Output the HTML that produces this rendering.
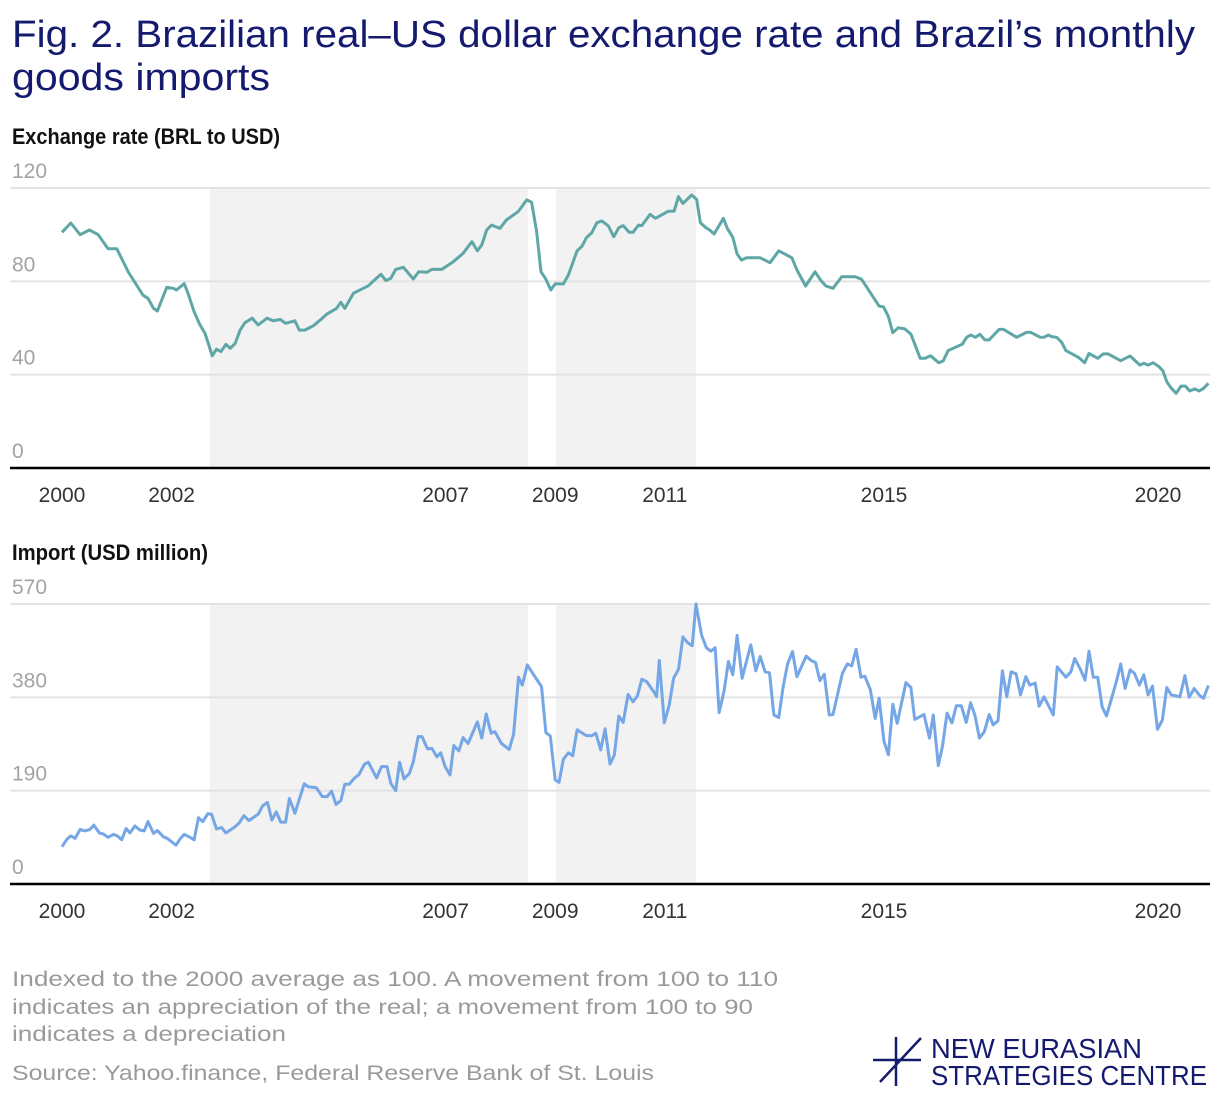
<!DOCTYPE html>
<html><head><meta charset="utf-8">
<style>
html,body{margin:0;padding:0;background:#fff;}
svg{display:block;font-family:"Liberation Sans",sans-serif;}
</style></head>
<body>
<svg id="chart" width="1220" height="1096" viewBox="0 0 1220 1096" xmlns="http://www.w3.org/2000/svg">
<text x="12" y="47" font-size="38" fill="#141a6e" textLength="1183" lengthAdjust="spacingAndGlyphs">Fig. 2. Brazilian real–US dollar exchange rate and Brazil’s monthly</text>
<text x="12" y="90" font-size="38" fill="#141a6e" textLength="258" lengthAdjust="spacingAndGlyphs">goods imports</text>
<text x="12" y="144" font-size="22" font-weight="bold" fill="#111" textLength="268" lengthAdjust="spacingAndGlyphs">Exchange rate (BRL to USD)</text>
<text x="12" y="560" font-size="22" font-weight="bold" fill="#111" textLength="196" lengthAdjust="spacingAndGlyphs">Import (USD million)</text>
<g id="top"></g>
<g id="bot"></g>
<g fill="#9a9a9a" font-size="21">
<text x="12" y="986" textLength="766" lengthAdjust="spacingAndGlyphs">Indexed to the 2000 average as 100. A movement from 100 to 110</text>
<text x="12" y="1014" textLength="741" lengthAdjust="spacingAndGlyphs">indicates an appreciation of the real; a movement from 100 to 90</text>
<text x="12" y="1041" textLength="274" lengthAdjust="spacingAndGlyphs">indicates a depreciation</text>
<text x="12" y="1080" textLength="642" lengthAdjust="spacingAndGlyphs">Source: Yahoo.finance, Federal Reserve Bank of St. Louis</text>
</g>
<g stroke="#141a6e" stroke-width="2.5" fill="none">
<line x1="896" y1="1037" x2="896" y2="1086"/>
<line x1="873" y1="1060" x2="921" y2="1060"/>
<line x1="880" y1="1082" x2="921" y2="1038"/>
</g>
<text x="931" y="1058" font-size="28" fill="#141a6e" textLength="211" lengthAdjust="spacingAndGlyphs">NEW EURASIAN</text>
<text x="931" y="1085" font-size="28" fill="#141a6e" textLength="276" lengthAdjust="spacingAndGlyphs">STRATEGIES CENTRE</text>
</svg>
<script>
const xTickYears = [2000, 2002, 2007, 2009, 2011, 2015, 2020];
const shadeStarts = [2002.7, 2009.01];
const shadeEnds = [2008.5, 2011.57];
const erTicks = [0, 40, 80, 120];
const imTicks = [0, 190, 380, 570];
const erYears = [0.00,0.16,0.33,0.50,0.66,0.84,1.00,1.21,1.48,1.57,1.67,1.74,1.91,2.03,2.09,2.23,2.30,2.41,2.51,2.61,2.67,2.74,2.82,2.90,2.99,3.07,3.16,3.25,3.34,3.47,3.58,3.74,3.86,3.98,4.08,4.25,4.33,4.43,4.59,4.71,4.83,5.01,5.09,5.16,5.32,5.59,5.68,5.82,5.91,6.00,6.09,6.23,6.41,6.51,6.66,6.75,6.93,7.14,7.32,7.48,7.58,7.66,7.75,7.84,7.99,8.11,8.33,8.48,8.57,8.66,8.74,8.83,8.92,9.00,9.15,9.24,9.40,9.49,9.57,9.67,9.76,9.85,9.97,10.07,10.16,10.24,10.35,10.42,10.52,10.58,10.73,10.83,11.06,11.17,11.25,11.33,11.49,11.58,11.65,11.75,11.82,11.90,12.07,12.14,12.24,12.32,12.40,12.49,12.74,12.92,13.08,13.32,13.41,13.57,13.74,13.85,13.94,14.07,14.23,14.47,14.59,14.91,14.99,15.08,15.16,15.26,15.38,15.49,15.66,15.75,15.85,16.00,16.08,16.17,16.43,16.51,16.58,16.67,16.75,16.84,16.92,17.10,17.18,17.42,17.60,17.68,17.85,17.92,18.00,18.06,18.15,18.24,18.32,18.55,18.66,18.74,18.90,19.00,19.09,19.32,19.49,19.67,19.74,19.82,19.91,20.02,20.09,20.16,20.23,20.33,20.42,20.50,20.58,20.67,20.75,20.83,20.92];
const erValues = [101,105,100,102,100,94,94,84,74,72.7,68.4,67.3,77.4,77,76.3,79,74.9,67,61.7,57.7,53.4,48.1,50.9,49.9,53,51.3,53.4,59.1,62.3,64.2,61.3,64.2,63.1,63.7,62,63.1,59.1,59.1,61,63.4,65.9,68.4,71,68.4,74.9,78.1,80.1,83,80.3,81.3,85.1,86,81,84.1,83.9,85.1,85.1,88.4,92,97,93.1,95.6,102,104.1,102.7,106.3,110,114.9,113.9,101.4,84.1,80.9,76.3,78.9,78.9,82.7,93.1,95.1,98.7,100.9,105.1,105.9,103.7,99.1,103,103.9,101,101,104.1,103.9,108.7,107,110,110.1,116.3,113.4,117,115.1,105.1,103,102,100.3,107,102.7,98.9,91.7,89.1,90.1,90.1,88,93.1,90.1,84.9,78,84.1,80.3,78,77,82,82,80.9,69.4,69.1,64.9,58,60.1,59.6,57.4,47,47,48.1,45.1,45.9,50.3,53.1,56,57,56,57.3,54.9,54.9,59.4,59.4,56,58.1,58.1,56,56,57,56.3,56,53.9,50.3,47.4,45.1,49.1,47,48.9,48.9,46,48,44.1,44.9,44.1,45.1,43.4,41.6,37,34.6,32,35.1,35.1,33,33.9,33,34.1,36.3];
const imYears = [0.00,0.09,0.16,0.24,0.33,0.42,0.51,0.58,0.68,0.75,0.84,0.94,1.01,1.09,1.17,1.24,1.33,1.42,1.50,1.57,1.67,1.74,1.85,1.92,2.08,2.15,2.23,2.32,2.41,2.49,2.57,2.66,2.73,2.82,2.91,2.99,3.14,3.23,3.32,3.41,3.58,3.66,3.75,3.83,3.91,3.99,4.08,4.15,4.25,4.42,4.49,4.64,4.75,4.84,4.92,5.00,5.09,5.16,5.24,5.33,5.42,5.52,5.59,5.74,5.83,5.93,6.00,6.09,6.16,6.24,6.34,6.41,6.50,6.57,6.67,6.75,6.84,6.91,6.99,7.08,7.15,7.24,7.32,7.41,7.58,7.66,7.74,7.83,7.90,8.02,8.16,8.24,8.33,8.40,8.49,8.63,8.75,8.83,8.91,9.00,9.07,9.15,9.24,9.32,9.40,9.57,9.67,9.74,9.83,9.91,10.00,10.08,10.16,10.24,10.33,10.42,10.50,10.58,10.67,10.82,10.85,10.90,10.99,11.08,11.16,11.25,11.33,11.42,11.50,11.57,11.67,11.76,11.84,11.92,11.99,12.08,12.16,12.24,12.32,12.41,12.57,12.66,12.74,12.83,12.91,12.99,13.08,13.16,13.24,13.33,13.41,13.58,13.67,13.75,13.83,13.91,14.00,14.07,14.24,14.33,14.41,14.49,14.58,14.65,14.75,14.84,14.91,15.00,15.08,15.16,15.24,15.40,15.49,15.56,15.73,15.83,15.90,15.99,16.07,16.15,16.24,16.32,16.41,16.50,16.58,16.66,16.74,16.83,16.92,16.99,17.08,17.16,17.24,17.32,17.41,17.49,17.59,17.66,17.76,17.83,17.92,18.09,18.16,18.32,18.41,18.48,18.58,18.67,18.74,18.82,18.90,18.98,19.06,19.24,19.32,19.40,19.49,19.57,19.66,19.74,19.82,19.90,19.99,20.08,20.16,20.24,20.40,20.49,20.57,20.66,20.75,20.83,20.92];
const imValues = [76,91,98,93,111,108,111,120,104,102,95,101,98,90,113,104,118,110,108,127,103,109,96,93,79,91,101,96,90,135,127,143,142,112,115,104,115,124,139,129,142,159,166,130,147,126,126,174,144,204,198,196,178,178,189,162,170,203,203,215,223,244,248,216,239,239,205,190,248,214,225,249,300,300,275,276,259,267,239,222,282,271,298,286,330,297,346,307,310,286,274,305,421,405,446,422,402,308,301,212,207,254,267,261,314,302,302,307,273,316,244,263,342,329,386,371,383,417,412,388,381,455,328,364,419,437,503,491,485,570,507,481,474,481,349,392,453,426,506,419,487,434,463,432,430,344,339,402,448,473,422,464,455,451,414,427,344,345,429,448,444,478,421,423,396,337,378,290,263,366,327,410,400,335,345,297,344,241,282,348,328,363,363,329,369,343,297,310,345,324,332,434,381,432,428,385,422,405,409,362,381,344,442,421,432,459,438,415,474,421,421,361,342,412,448,398,436,429,405,426,385,403,315,334,400,385,381,424,380,398,385,378,404];

const NS = "http://www.w3.org/2000/svg";
const X0 = 62, PX_PER_YEAR = 54.8, LEFT = 10, RIGHT = 1210;
function xScale(t){ return X0 + t * PX_PER_YEAR; }
function mk(tag, attrs, parent){ const e = document.createElementNS(NS, tag); for (const k in attrs) e.setAttribute(k, attrs[k]); parent.appendChild(e); return e; }

function drawPanel(g, baseY, topY, maxV, ticks, years, values, color, name){
  const yScale = v => baseY - (v / maxV) * (baseY - topY);
  for (let i = 0; i < shadeStarts.length; i++){
    const r = mk('rect', {x: xScale(shadeStarts[i]-2000), y: topY, width: xScale(shadeEnds[i]-2000) - xScale(shadeStarts[i]-2000), height: baseY - topY, fill: '#f2f2f2'}, g);
    
    
  }
  ticks.forEach(v => {
    if (v > 0){
      const l = mk('line', {x1: LEFT, x2: RIGHT, y1: yScale(v), y2: yScale(v), stroke: '#e3e3e3', 'stroke-width': 2}, g);
      
      
    }
    const t = mk('text', {x: 12, y: yScale(v) - 10, 'font-size': 21, fill: '#a3a3a3'}, g);
    t.textContent = v;
    
    
  });
  const pts = years.map((t, i) => xScale(t).toFixed(1) + ',' + yScale(values[i]).toFixed(1)).join(' ');
  const line = mk('polyline', {points: pts, fill: 'none', stroke: color, 'stroke-width': 3, 'stroke-linejoin': 'round'}, g);
  
  
  const ax = mk('line', {x1: LEFT, x2: RIGHT, y1: baseY, y2: baseY, stroke: '#000', 'stroke-width': 2.5}, g);
  
  
  xTickYears.forEach(yr => {
    const t = mk('text', {x: xScale(yr - 2000), y: baseY + 34, 'font-size': 21, fill: '#333', 'text-anchor': 'middle'}, g);
    t.textContent = yr;
    
    
  });
}
drawPanel(document.getElementById('top'), 468, 188, 120, erTicks, erYears, erValues, '#5ea7a6', 'exchange-rate-line');
drawPanel(document.getElementById('bot'), 884, 604, 570, imTicks, imYears, imValues, '#75a6e6', 'import-line');
</script>
</body></html>
